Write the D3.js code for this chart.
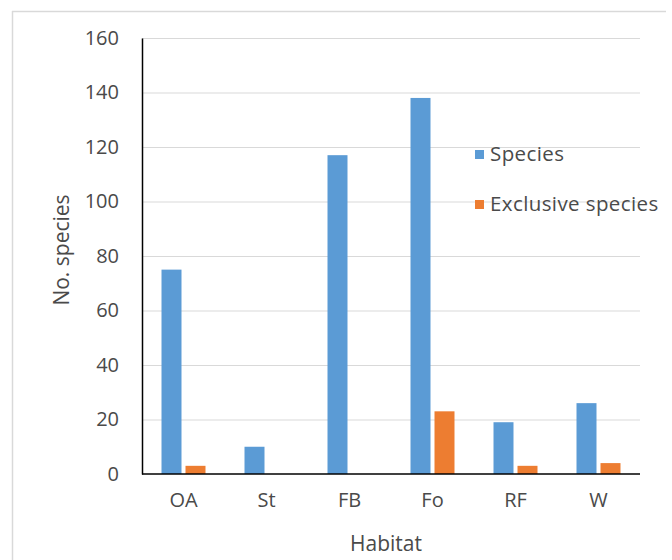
<!DOCTYPE html>
<html>
<head>
<meta charset="utf-8">
<script src="https://cdn.jsdelivr.net/npm/d3@7"></script>
<style>
  html, body { margin: 0; padding: 0; background: #fff; }
  text { font-family: "Open Sans", "Segoe UI", sans-serif; fill: #4a4a4a; }
</style>
</head>
<body>
<svg id="chart" width="672" height="560"></svg>
<script>
// Species counts by habitat
const habitats = ["OA", "St", "FB", "Fo", "RF", "W"];
const species = [75, 10, 117, 138, 19, 26];
const exclusiveSpecies = [3, 0, 0, 23, 3, 4];
const seriesNames = ["Species", "Exclusive species"];
const seriesColors = ["#5b9bd5", "#ed7d31"];
const yTicks = [0, 20, 40, 60, 80, 100, 120, 140, 160];

const svg = d3.select("#chart");
const margin = { left: 142, right: 32, top: 38, bottom: 86 };
const W = 672, H = 560;
const textColor = "#4a4a4a";

// Outer chart frame (top and left edges)
svg.append("line").attr("x1", 12).attr("x2", 666).attr("y1", 11.5).attr("y2", 11.5)
  .attr("stroke", "#d9d9d9").attr("stroke-width", 1.5);
svg.append("line").attr("x1", 12.5).attr("x2", 12.5).attr("y1", 11).attr("y2", 560)
  .attr("stroke", "#d9d9d9").attr("stroke-width", 1.5);

const x0 = d3.scaleBand().domain(habitats)
  .range([margin.left, W - margin.right]).paddingInner(0.47).paddingOuter(0.235);
const x1 = d3.scaleBand().domain(seriesNames)
  .range([0, x0.bandwidth()]).paddingInner(0.167);
const y = d3.scaleLinear().domain([0, 160]).range([H - margin.bottom, margin.top]);

// Horizontal gridlines
svg.append("g").selectAll("line").data(yTicks.filter(d => d > 0)).join("line")
  .attr("x1", margin.left).attr("x2", W - margin.right)
  .attr("y1", d => y(d) + 0.5).attr("y2", d => y(d) + 0.5)
  .attr("stroke", "#d9d9d9").attr("stroke-width", 1.2);

// Legend (over gridlines)
const legendY = [154, 204];
const legend = svg.append("g");
seriesNames.forEach((name, i) => {
  legend.append("rect").attr("x", 475).attr("y", legendY[i] - 4).attr("width", 9).attr("height", 9)
    .attr("fill", seriesColors[i]);
  legend.append("text").attr("x", 490).attr("y", legendY[i]).attr("dy", "0.35em")
    .attr("font-size", 20.5).attr("letter-spacing", 0.4).text(name);
});

// Bars
const rows = habitats.map((h, i) => ({ h, vals: [species[i], exclusiveSpecies[i]] }));
svg.append("g").selectAll("g").data(rows).join("g")
  .attr("transform", d => `translate(${x0(d.h)},0)`)
  .selectAll("rect").data(d => d.vals.map((v, k) => ({ k, v })))
  .join("rect")
  .attr("x", d => x1(seriesNames[d.k]))
  .attr("width", x1.bandwidth())
  .attr("y", d => y(d.v))
  .attr("height", d => y(0) - y(d.v))
  .attr("fill", d => seriesColors[d.k]);

// Y axis
const yAxis = svg.append("g").attr("transform", `translate(${margin.left},0)`)
  .call(d3.axisLeft(y).tickValues(yTicks).tickSize(0).tickPadding(23));
yAxis.select(".domain").attr("stroke", "#000").attr("stroke-width", 1.5);
yAxis.selectAll("text").attr("font-size", 20).style("font-family", "'Open Sans', sans-serif")
  .attr("fill", textColor);

// X axis
const xAxis = svg.append("g").attr("transform", `translate(0,${y(0)})`)
  .call(d3.axisBottom(x0).tickSize(0).tickPadding(19));
xAxis.select(".domain").attr("stroke", "#000").attr("stroke-width", 1.5)
  .attr("d", `M${margin.left},0H${W - margin.right}`);
xAxis.selectAll("text").attr("font-size", 20).style("font-family", "'Open Sans', sans-serif")
  .attr("fill", textColor);

// Axis titles
svg.append("text").attr("x", 386).attr("y", 544).attr("dy", "0.35em")
  .attr("text-anchor", "middle").attr("font-size", 21).text("Habitat");
svg.append("text").attr("transform", "translate(62,250) rotate(-90)").attr("dy", "0.35em")
  .attr("text-anchor", "middle").attr("font-size", 21).text("No. species");
</script>
</body>
</html>
